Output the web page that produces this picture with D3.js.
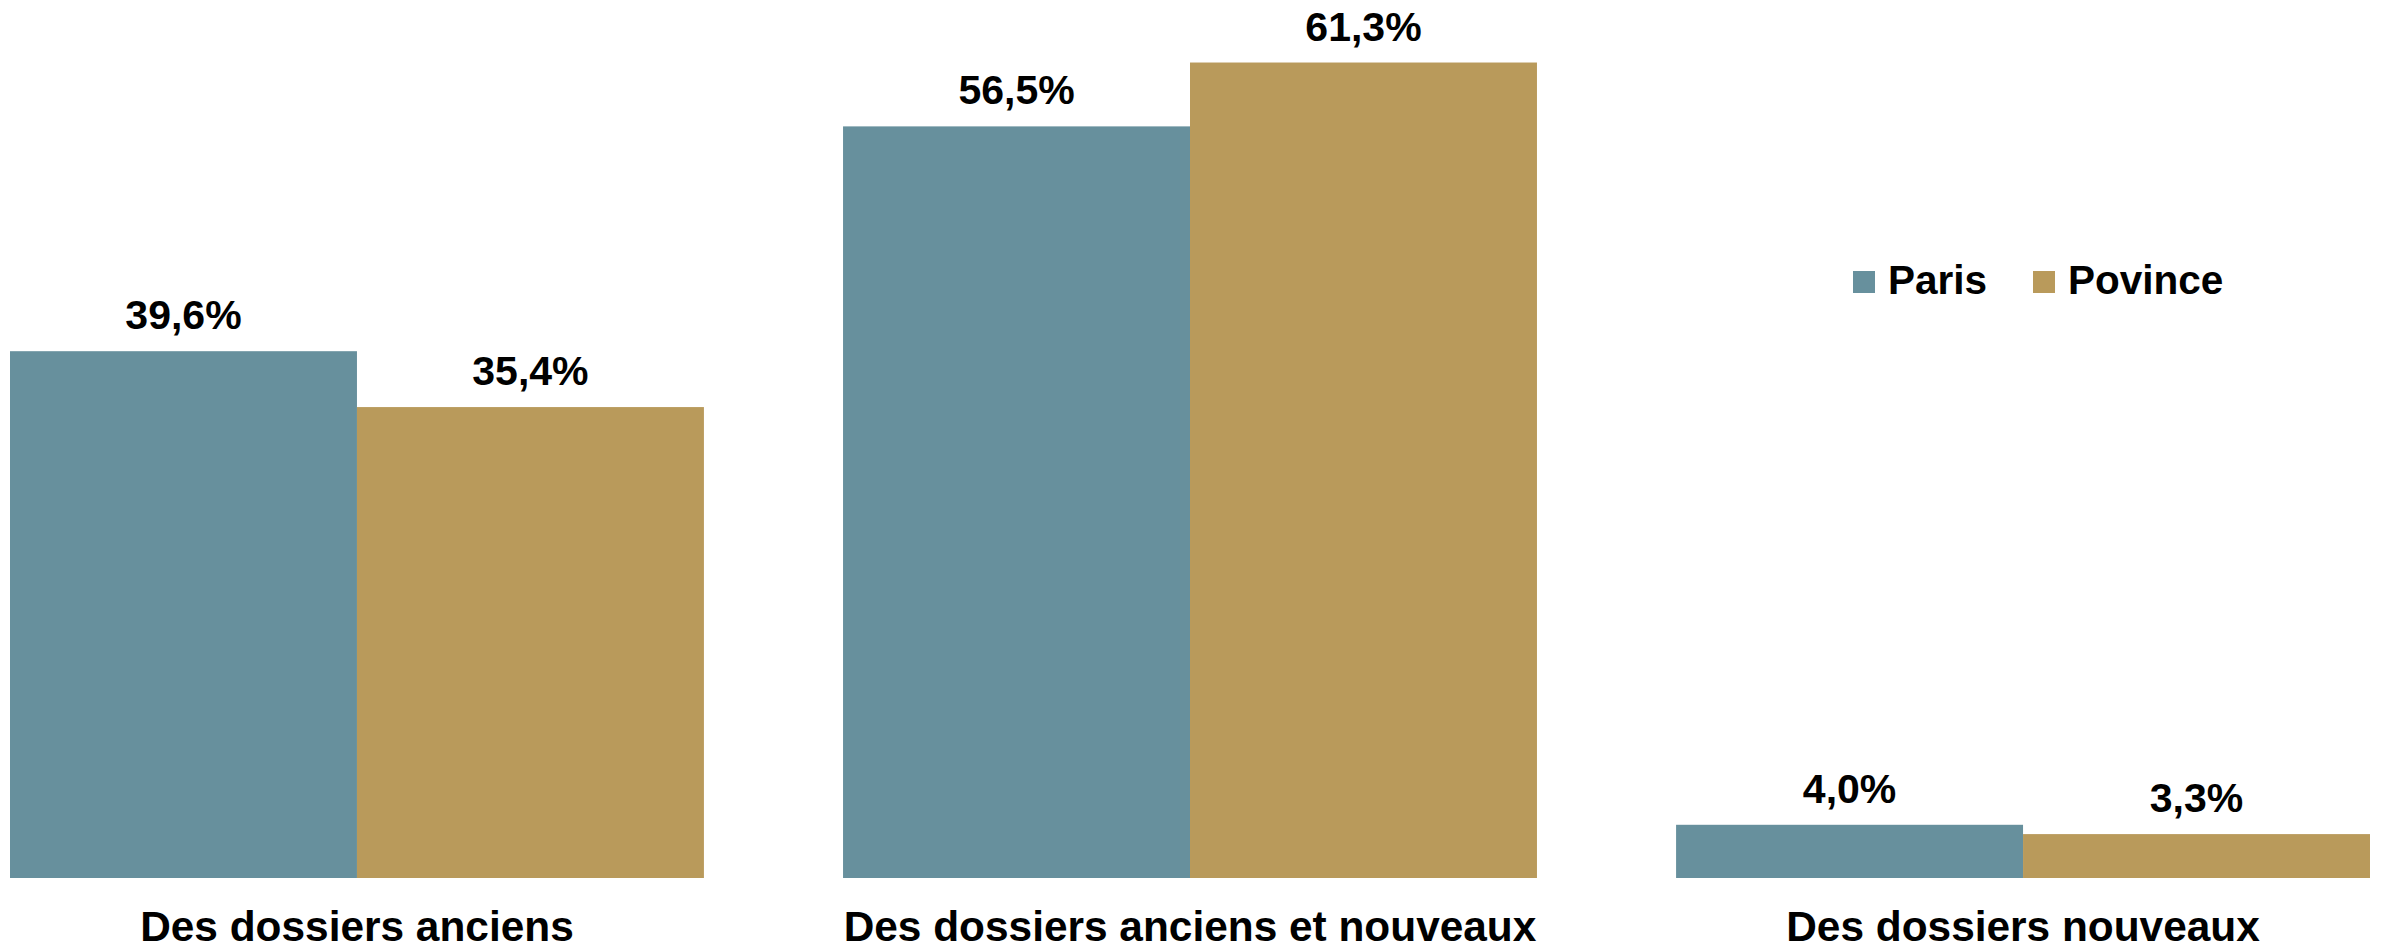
<!DOCTYPE html>
<html>
<head>
<meta charset="utf-8">
<script src="https://cdn.jsdelivr.net/npm/d3@7"></script>
<style>
  html, body { margin: 0; padding: 0; background: #ffffff; }
  svg { display: block; }
  text { font-family: "Liberation Sans", Arial, Helvetica, sans-serif; font-weight: bold; fill: #000; }
</style>
</head>
<body>
<script>
const categories = ["Des dossiers anciens", "Des dossiers anciens et nouveaux", "Des dossiers nouveaux"];
const seriesNames = ["Paris", "Povince"];
const parisValues = [39.6, 56.5, 4.0];
const provinceValues = [35.4, 61.3, 3.3];
const valueLabels = {
  Paris: ["39,6%", "56,5%", "4,0%"],
  Povince: ["35,4%", "61,3%", "3,3%"]
};
const colors = ["#67909d", "#b99a5b"];

const W = 2381, H = 950;
const svg = d3.select("body").append("svg").attr("width", W).attr("height", H);

const x0 = d3.scaleBand().domain(categories).range([10, 2370]).paddingInner(0.167).paddingOuter(0);
const x1 = d3.scaleBand().domain(seriesNames).range([0, x0.bandwidth()]).padding(0);
const y = d3.scaleLinear().domain([0, 66]).range([878, 0]);
const color = d3.scaleOrdinal().domain(seriesNames).range(colors);

const data = categories.map((c, i) => ({
  category: c,
  values: [
    { key: "Paris", value: parisValues[i], label: valueLabels.Paris[i] },
    { key: "Povince", value: provinceValues[i], label: valueLabels.Povince[i] }
  ]
}));

const groups = svg.selectAll("g.grp").data(data).enter().append("g")
  .attr("class", "grp")
  .attr("transform", d => `translate(${x0(d.category)},0)`);

groups.selectAll("rect").data(d => d.values).enter().append("rect")
  .attr("x", d => x1(d.key))
  .attr("y", d => y(d.value))
  .attr("width", x1.bandwidth())
  .attr("height", d => y(0) - y(d.value))
  .attr("fill", d => color(d.key));

groups.selectAll("text.val").data(d => d.values).enter().append("text")
  .attr("class", "val")
  .attr("x", d => x1(d.key) + x1.bandwidth() / 2)
  .attr("y", d => y(d.value) - 22)
  .attr("text-anchor", "middle")
  .style("font-size", "41px")
  .text(d => d.label);

// category axis labels
const xAxis = d3.axisBottom(x0).tickSize(0).tickPadding(0);
const axisG = svg.append("g").attr("transform", `translate(0,${y(0)})`).call(xAxis);
axisG.select(".domain").remove();
axisG.selectAll("text")
  .attr("dy", null)
  .attr("y", 63)
  .style("font-size", "42.4px")
  .style("font-family", "'Liberation Sans', Arial, sans-serif")
  .style("font-weight", "bold")
  .attr("fill", "#000");

// legend
const legendPos = [1853, 2033];
const legend = svg.append("g").attr("class", "legend");
seriesNames.forEach((s, i) => {
  legend.append("rect")
    .attr("x", legendPos[i]).attr("y", 271)
    .attr("width", 22).attr("height", 22)
    .attr("fill", color(s));
  legend.append("text")
    .attr("x", legendPos[i] + 35).attr("y", 294)
    .style("font-size", "40.5px")
    .text(s);
});
</script>
</body>
</html>
